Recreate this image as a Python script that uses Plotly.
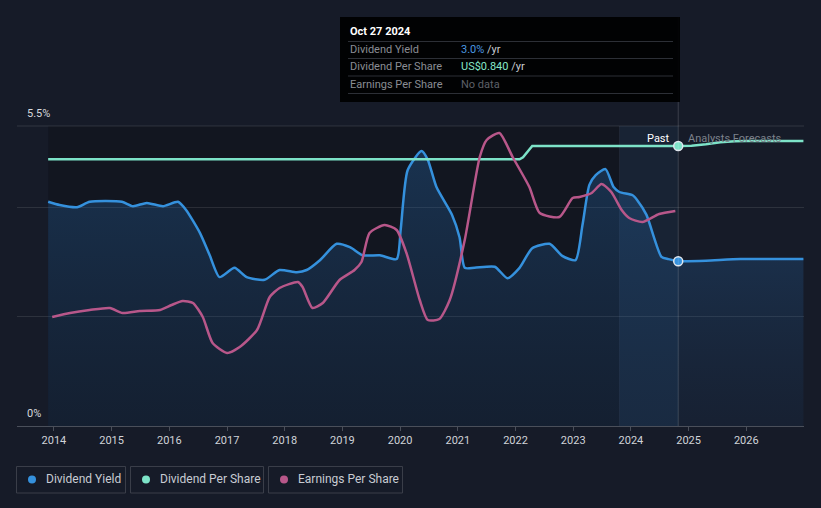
import plotly.graph_objects as go

# ---------------- data ----------------
yield_years = [2013.90, 2014.10, 2014.40, 2014.62, 2015.18, 2015.37, 2015.61, 2015.89, 2016.15, 2016.29,
               2016.53, 2016.70, 2016.87, 2017.13, 2017.34, 2017.65, 2017.91, 2018.21, 2018.38, 2018.61,
               2018.90, 2019.13, 2019.35, 2019.65, 2019.94, 2020.01, 2020.13, 2020.37, 2020.48, 2020.63,
               2020.90, 2021.03, 2021.12, 2021.29, 2021.64, 2021.86, 2022.07, 2022.29, 2022.59, 2022.81,
               2023.04, 2023.16, 2023.28, 2023.39, 2023.56, 2023.70, 2023.80, 2024.03, 2024.11, 2024.27,
               2024.53, 2024.65, 2024.82]
yield_pct = [4.11, 4.05, 4.01, 4.11, 4.11, 4.03, 4.09, 4.03, 4.11, 3.96,
             3.54, 3.13, 2.73, 2.90, 2.73, 2.68, 2.86, 2.82, 2.86, 3.04,
             3.34, 3.28, 3.13, 3.13, 3.06, 3.60, 4.69, 5.04, 4.88, 4.38,
             3.87, 3.46, 2.90, 2.90, 2.92, 2.71, 2.90, 3.26, 3.34, 3.12,
             3.04, 3.68, 4.42, 4.60, 4.71, 4.38, 4.29, 4.23, 4.14, 3.87,
             3.10, 3.06, 3.02]

yield_fc_years = [2024.82, 2025.30, 2025.90, 2026.99]
yield_fc_pct = [3.02, 3.03, 3.06, 3.06]

dps_years = [2013.90, 2022.07, 2022.13, 2022.20, 2022.26, 2022.29, 2024.82]
dps_usd = [0.80, 0.80, 0.806, 0.822, 0.836, 0.84, 0.84]
dps_fc_years = [2024.82, 2025.05, 2025.30, 2025.55, 2025.80, 2026.00, 2026.99]
dps_fc_usd = [0.84, 0.841, 0.845, 0.851, 0.854, 0.855, 0.855]

eps_years = [2013.97, 2014.28, 2014.62, 2014.97, 2015.19, 2015.49, 2015.84, 2016.04, 2016.23, 2016.41,
             2016.58, 2016.75, 2017.00, 2017.22, 2017.52, 2017.74, 2017.91, 2018.23, 2018.31, 2018.48,
             2018.66, 2018.95, 2019.21, 2019.33, 2019.47, 2019.73, 2019.94, 2020.11, 2020.34, 2020.48,
             2020.68, 2020.86, 2021.12, 2021.38, 2021.50, 2021.72, 2021.95, 2022.24, 2022.42, 2022.76,
             2022.99, 2023.11, 2023.32, 2023.49, 2023.66, 2023.84, 2023.97, 2024.20, 2024.49, 2024.77]
eps_usd = [1.09, 1.13, 1.16, 1.18, 1.13, 1.15, 1.16, 1.21, 1.25, 1.23,
           1.09, 0.83, 0.73, 0.79, 0.96, 1.29, 1.38, 1.44, 1.39, 1.18,
           1.23, 1.46, 1.56, 1.64, 1.93, 2.01, 1.96, 1.73, 1.26, 1.06,
           1.07, 1.26, 1.86, 2.69, 2.86, 2.93, 2.69, 2.39, 2.13, 2.09,
           2.28, 2.29, 2.33, 2.42, 2.34, 2.16, 2.08, 2.04, 2.12, 2.15]

year_ticks = list(range(2014, 2027))
tooltip_date = "Oct 27 2024"
tooltip_yield = "3.0%"
tooltip_dps = "US$0.840"
past_start = 2023.80
now_year = 2024.82

# ---------------- style ----------------
BG = "#161b28"
BLUE = "#3591dd"
TEAL = "#7de3c8"
PINK = "#b8578a"
FONT = "Roboto"

fig = go.Figure()

fig.add_trace(go.Scatter(x=yield_years, y=yield_pct, mode="lines",
                         line=dict(color=BLUE, width=2.5, shape="spline", smoothing=0.6),
                         fill="tozeroy",
                         fillgradient=dict(type="vertical",
                                           colorscale=[[0, "rgba(30,75,125,0.18)"], [1, "rgba(40,110,180,0.32)"]]),
                         hoverinfo="skip", showlegend=False))
fig.add_trace(go.Scatter(x=yield_fc_years, y=yield_fc_pct, mode="lines",
                         line=dict(color=BLUE, width=2.5, shape="spline", smoothing=0.6),
                         fill="tozeroy",
                         fillgradient=dict(type="vertical",
                                           colorscale=[[0, "rgba(30,75,125,0.12)"], [1, "rgba(40,110,180,0.24)"]]),
                         hoverinfo="skip", showlegend=False))
fig.add_trace(go.Scatter(x=dps_years, y=dps_usd, mode="lines", yaxis="y2",
                         line=dict(color=TEAL, width=2.5, shape="linear"),
                         hoverinfo="skip", showlegend=False))
fig.add_trace(go.Scatter(x=dps_fc_years, y=dps_fc_usd, mode="lines", yaxis="y2",
                         line=dict(color=TEAL, width=2.5, shape="linear"),
                         hoverinfo="skip", showlegend=False))
fig.add_trace(go.Scatter(x=eps_years, y=eps_usd, mode="lines", yaxis="y3",
                         line=dict(color=PINK, width=2.5, shape="spline", smoothing=0.6),
                         hoverinfo="skip", showlegend=False))
# cursor markers
fig.add_trace(go.Scatter(x=[yield_years[-1]], y=[yield_pct[-1]], mode="markers",
                         marker=dict(color=BLUE, size=9, line=dict(color="#dfe6ee", width=1.5)),
                         hoverinfo="skip", showlegend=False))
fig.add_trace(go.Scatter(x=[dps_years[-1]], y=[dps_usd[-1]], mode="markers", yaxis="y2",
                         marker=dict(color=TEAL, size=9, line=dict(color="#dfe6ee", width=1.5)),
                         hoverinfo="skip", showlegend=False))

L, R, T, B = 17, 17, 126, 82
W, H = 821, 508
PW, PH = W - L - R, H - T - B


def px(x):
    return (x - L) / PW


def py(y):
    return (H - B - y) / PH


shapes = []
annotations = []

# darker past region
shapes.append(dict(type="rect", xref="x", yref="paper", x0=yield_years[0], x1=past_start, y0=0, y1=1,
                   fillcolor="rgba(0,0,0,0.18)", line=dict(width=0), layer="below"))
# past band (last year)
shapes.append(dict(type="rect", xref="x", yref="paper", x0=past_start, x1=now_year, y0=0, y1=1,
                   fillcolor="rgba(60,140,215,0.07)", line=dict(width=0), layer="below"))
shapes.append(dict(type="line", xref="x", yref="paper", x0=past_start, x1=past_start, y0=0, y1=1,
                   line=dict(color="rgba(255,255,255,0.05)", width=1), layer="below"))
# top gridline
shapes.append(dict(type="line", xref="paper", yref="paper", x0=0, x1=1, y0=1, y1=1,
                   line=dict(color="rgba(255,255,255,0.12)", width=1), layer="below"))
# cursor line
shapes.append(dict(type="line", xref="x", yref="paper", x0=now_year, x1=now_year, y0=0, y1=py(17),
                   line=dict(color="rgba(255,255,255,0.16)", width=1)))

# tooltip box
shapes.append(dict(type="rect", xref="paper", yref="paper", x0=px(340), x1=px(680), y0=py(102), y1=py(17),
                   fillcolor="rgba(0,0,0,0.92)", line=dict(width=0)))
for yy in [41.5, 58.5, 76, 93.5]:
    shapes.append(dict(type="line", xref="paper", yref="paper", x0=px(348), x1=px(673), y0=py(yy), y1=py(yy),
                       line=dict(color="#2c2f36", width=1)))


def ann(x, y, text, color, size=11, xanchor="left", **kw):
    annotations.append(dict(x=px(x), y=py(y), xref="paper", yref="paper", text=text, showarrow=False,
                            xanchor=xanchor, yanchor="middle", font=dict(family=FONT, size=size, color=color), **kw))


ann(348, 31, "<b>" + tooltip_date + "</b>", "#ffffff", 11)
ann(348, 49.5, "Dividend Yield", "#8a8d94", 11)
ann(459, 49.5, "<span style='color:%s'>%s</span> /yr" % ("#4a97e0", tooltip_yield), "#c9ccd2", 11)
ann(348, 67, "Dividend Per Share", "#8a8d94", 11)
ann(459, 67, "<span style='color:%s'>%s</span> /yr" % ("#86e8c9", tooltip_dps), "#c9ccd2", 11)
ann(348, 84.5, "Earnings Per Share", "#8a8d94", 11)
ann(459, 84.5, "No data", "#5d6068", 11)

# y labels
ann(25, 114, "5.5%", "#d6d9de", 11)
ann(25, 413, "0%", "#d6d9de", 11)

# past / forecast
ann(672, 138, "Past", "#ffffff", 11, xanchor="right")
ann(686, 138, "Analysts Forecasts", "#7d828c", 11)

# legend
legend_items = [("Dividend Yield", BLUE, 16.5, 125.5), ("Dividend Per Share", TEAL, 130.5, 263.5),
                ("Earnings Per Share", PINK, 268.5, 402.5)]
for name, col, x0, x1 in legend_items:
    shapes.append(dict(type="rect", xref="paper", yref="paper", x0=px(x0), x1=px(x1), y0=py(493), y1=py(466.5),
                       fillcolor="rgba(0,0,0,0)", line=dict(color="#3a3e49", width=1)))
    shapes.append(dict(type="circle", xref="paper", yref="paper", xsizemode="pixel", ysizemode="pixel",
                       xanchor=px(x0 + 15.5), yanchor=py(479.5), x0=-4, x1=4, y0=-4, y1=4,
                       fillcolor=col, line=dict(width=0)))
    ann(x0 + 27.5, 479.5, name, "#c8ccd3", 12)

fig.update_layout(
    width=W, height=H,
    margin=dict(l=L, r=R, t=T, b=B),
    paper_bgcolor=BG, plot_bgcolor=BG,
    font=dict(family=FONT, color="#c8ccd3"),
    showlegend=False,
    xaxis=dict(range=[2013.36, 2027.0], tickvals=year_ticks, ticktext=[str(y) for y in year_ticks],
               showgrid=False, zeroline=False, showline=True, linecolor="#4a4f5a", linewidth=1,
               ticks="outside", ticklen=4, tickcolor="#4a4f5a", tickfont=dict(size=11, color="#d0d3d8"),
               fixedrange=True),
    yaxis=dict(range=[0, 5.5], tickvals=[0, 2, 4, 5.5], showticklabels=False, showgrid=True,
               gridcolor="rgba(255,255,255,0.10)", gridwidth=1, zeroline=False, fixedrange=True),
    yaxis2=dict(range=[0, 0.9], overlaying="y", visible=False, fixedrange=True),
    yaxis3=dict(range=[0, 3.0], overlaying="y", visible=False, fixedrange=True),
    shapes=shapes,
    annotations=annotations,
)

fig.write_html("out.html")
